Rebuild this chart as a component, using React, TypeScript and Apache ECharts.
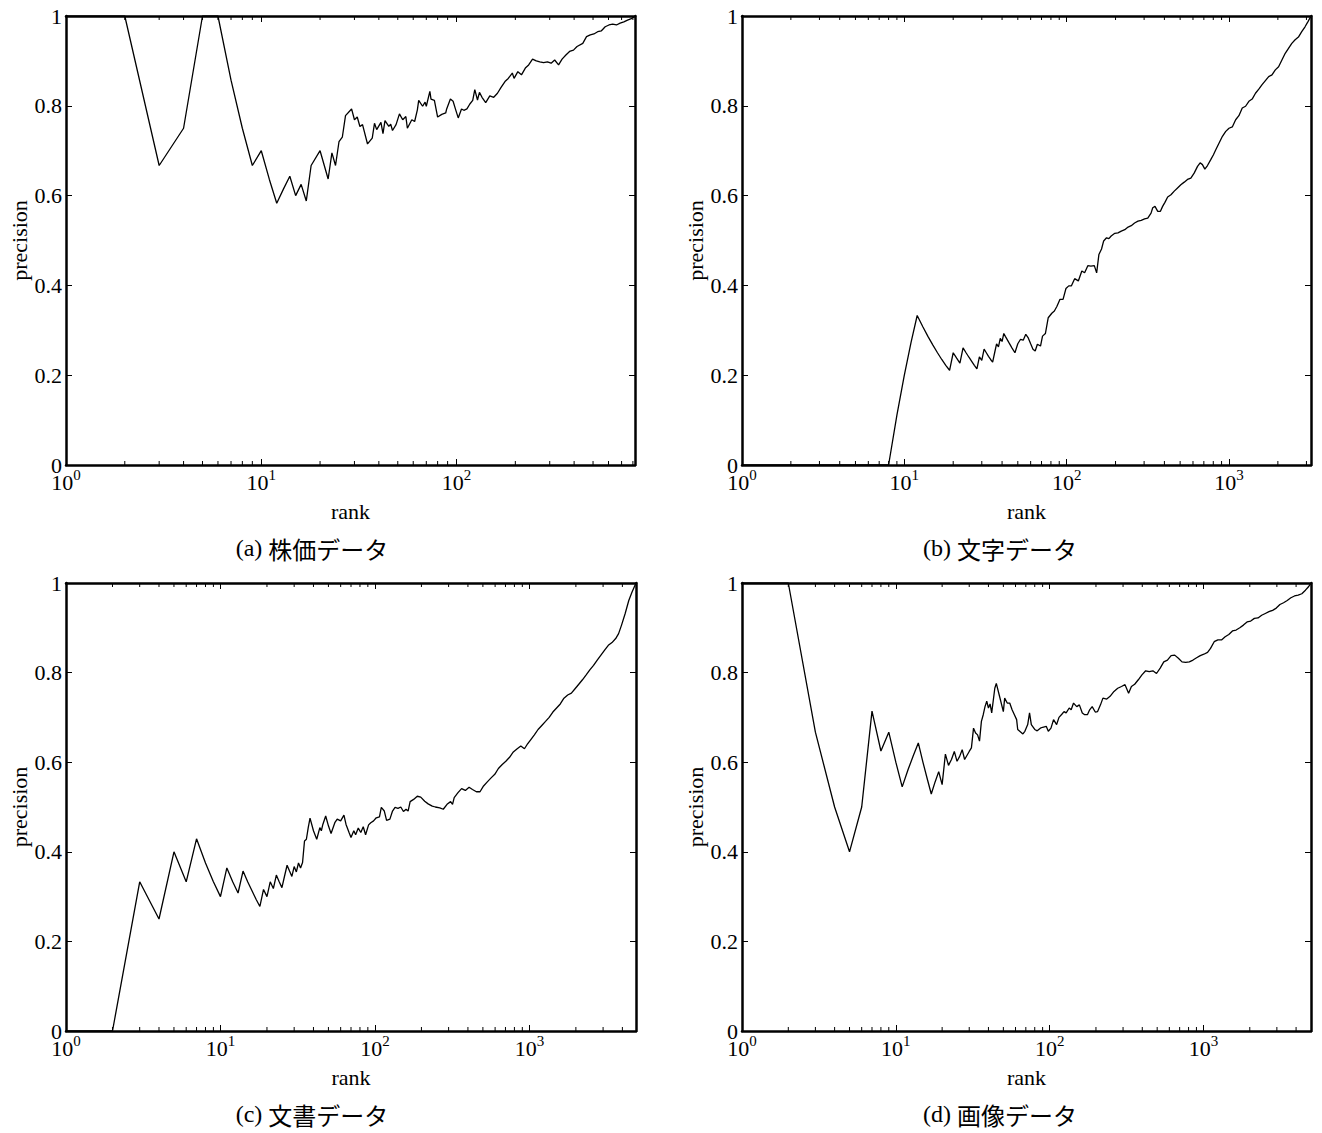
import React, { useEffect, useRef } from "react";
import * as echarts from "echarts";

// ---------- data (rank, precision) ----------
const rankA = [1, 2, 3, 4, 5, 6, 7, 8, 9, 10, 11, 12, 13, 14, 15, 16, 17, 18, 20, 22, 23, 24, 25, 26, 27, 29, 30, 31, 32, 33, 35, 37, 38, 39, 41, 42, 43, 45, 46, 47, 49, 51, 53, 55, 56, 59, 61, 63, 64, 67, 69, 70, 73, 74, 77, 80, 84, 88, 89, 93, 96, 99, 102, 106, 109, 113, 117, 121, 124, 128, 131, 135, 141, 148, 155, 162, 169, 177, 184, 193, 197, 206, 215, 225, 234, 245, 256, 267, 279, 292, 305, 318, 333, 347, 363, 379, 397, 414, 443, 463, 484, 505, 528, 552, 577, 603, 630, 659, 688, 719, 751, 785, 820];
const precA = [1, 1, 0.667, 0.75, 1, 1, 0.857, 0.75, 0.667, 0.7, 0.636, 0.583, 0.615, 0.643, 0.6, 0.625, 0.588, 0.667, 0.7, 0.637, 0.695, 0.667, 0.72, 0.73, 0.778, 0.793, 0.769, 0.775, 0.754, 0.758, 0.715, 0.728, 0.761, 0.747, 0.763, 0.738, 0.767, 0.754, 0.759, 0.745, 0.758, 0.782, 0.769, 0.776, 0.75, 0.769, 0.765, 0.791, 0.812, 0.799, 0.808, 0.799, 0.832, 0.815, 0.812, 0.775, 0.781, 0.784, 0.793, 0.815, 0.81, 0.791, 0.773, 0.793, 0.79, 0.793, 0.804, 0.812, 0.836, 0.813, 0.83, 0.819, 0.807, 0.822, 0.819, 0.828, 0.841, 0.854, 0.861, 0.873, 0.861, 0.876, 0.869, 0.884, 0.891, 0.904, 0.9, 0.898, 0.896, 0.898, 0.895, 0.902, 0.891, 0.904, 0.913, 0.921, 0.924, 0.932, 0.939, 0.954, 0.958, 0.96, 0.965, 0.967, 0.976, 0.98, 0.982, 0.98, 0.984, 0.987, 0.991, 0.994, 1.0];

const rankB = [1, 2, 3, 4, 5, 6, 7, 8, 9, 10, 11, 12, 13, 14, 15, 16, 17, 18, 19, 20, 21, 22, 23, 24, 25, 26, 27, 28, 29, 30, 31, 32, 33, 34, 35, 36, 37, 38, 39, 40, 41, 42, 44, 46, 48, 50, 52, 54, 56, 58, 60, 62, 64, 66, 69, 71, 74, 77, 81, 84, 87, 91, 95, 99, 103, 107, 112, 118, 124, 129, 135, 141, 148, 153, 158, 164, 169, 176, 182, 188, 198, 207, 217, 228, 239, 250, 262, 275, 288, 302, 316, 331, 339, 350, 364, 378, 390, 403, 419, 439, 460, 482, 505, 530, 555, 582, 610, 640, 664, 686, 710, 737, 772, 802, 829, 869, 911, 955, 1000, 1048, 1099, 1151, 1207, 1265, 1326, 1389, 1456, 1526, 1599, 1676, 1756, 1840, 1929, 2021, 2118, 2220, 2326, 2438, 2555, 2677, 2806, 2940, 3060, 3200];
const precB = [0, 0, 0, 0, 0, 0, 0, 0, 0.111, 0.2, 0.273, 0.333, 0.308, 0.286, 0.267, 0.25, 0.235, 0.222, 0.211, 0.25, 0.238, 0.227, 0.261, 0.25, 0.24, 0.231, 0.222, 0.214, 0.241, 0.233, 0.258, 0.25, 0.242, 0.235, 0.229, 0.25, 0.27, 0.263, 0.282, 0.275, 0.293, 0.286, 0.273, 0.261, 0.25, 0.27, 0.28, 0.278, 0.291, 0.283, 0.27, 0.258, 0.254, 0.269, 0.265, 0.287, 0.293, 0.328, 0.338, 0.343, 0.353, 0.369, 0.369, 0.393, 0.399, 0.399, 0.415, 0.41, 0.432, 0.428, 0.444, 0.443, 0.444, 0.428, 0.469, 0.481, 0.499, 0.506, 0.504, 0.51, 0.516, 0.517, 0.521, 0.524, 0.53, 0.533, 0.539, 0.543, 0.545, 0.548, 0.55, 0.561, 0.573, 0.576, 0.565, 0.565, 0.576, 0.585, 0.597, 0.602, 0.61, 0.617, 0.624, 0.63, 0.636, 0.639, 0.65, 0.665, 0.673, 0.669, 0.659, 0.667, 0.68, 0.691, 0.702, 0.717, 0.732, 0.743, 0.75, 0.753, 0.769, 0.778, 0.795, 0.799, 0.81, 0.815, 0.828, 0.837, 0.847, 0.856, 0.865, 0.869, 0.88, 0.887, 0.902, 0.917, 0.928, 0.939, 0.947, 0.953, 0.965, 0.976, 0.987, 1.0];

const rankC = [1, 2, 3, 4, 5, 6, 7, 8, 9, 10, 11, 12, 13, 14, 15, 16, 17, 18, 19, 20, 21, 22, 23, 24, 25, 26, 27, 28, 29, 30, 31, 32, 33, 34, 35, 36, 37, 38, 40, 42, 44, 45, 46, 48, 50, 52, 55, 57, 60, 63, 65, 68, 70, 73, 75, 78, 81, 84, 87, 91, 94, 98, 102, 107, 110, 115, 119, 125, 130, 135, 141, 147, 153, 159, 164, 169, 178, 188, 198, 210, 221, 235, 246, 263, 277, 293, 309, 318, 326, 345, 364, 385, 407, 428, 454, 479, 505, 534, 565, 597, 630, 667, 704, 744, 787, 834, 880, 929, 965, 1019, 1077, 1138, 1203, 1272, 1343, 1419, 1500, 1585, 1674, 1770, 1870, 1975, 2088, 2206, 2331, 2462, 2602, 2749, 2905, 3069, 3243, 3426, 3620, 3780, 3950, 4170, 4400, 4620, 4900];
const precC = [0, 0, 0.333, 0.25, 0.4, 0.333, 0.429, 0.375, 0.333, 0.3, 0.364, 0.333, 0.308, 0.357, 0.333, 0.313, 0.294, 0.278, 0.316, 0.3, 0.333, 0.318, 0.348, 0.333, 0.32, 0.346, 0.37, 0.357, 0.345, 0.367, 0.355, 0.375, 0.364, 0.376, 0.424, 0.428, 0.454, 0.475, 0.447, 0.428, 0.454, 0.447, 0.461, 0.48, 0.458, 0.441, 0.465, 0.473, 0.469, 0.482, 0.461, 0.443, 0.432, 0.447, 0.438, 0.453, 0.443, 0.456, 0.438, 0.46, 0.465, 0.469, 0.476, 0.478, 0.499, 0.491, 0.47, 0.473, 0.491, 0.499, 0.497, 0.5, 0.49, 0.495, 0.491, 0.512, 0.517, 0.524, 0.522, 0.513, 0.507, 0.502, 0.5, 0.498, 0.495, 0.506, 0.512, 0.506, 0.521, 0.532, 0.541, 0.537, 0.544, 0.539, 0.534, 0.534, 0.547, 0.556, 0.565, 0.573, 0.586, 0.595, 0.602, 0.611, 0.623, 0.63, 0.636, 0.63, 0.639, 0.65, 0.661, 0.673, 0.682, 0.691, 0.7, 0.712, 0.721, 0.73, 0.743, 0.75, 0.754, 0.764, 0.774, 0.784, 0.795, 0.806, 0.816, 0.828, 0.839, 0.85, 0.861, 0.867, 0.876, 0.887, 0.906, 0.932, 0.961, 0.98, 1.0];

const rankD = [1, 2, 3, 4, 5, 6, 7, 8, 9, 10, 11, 12, 13, 14, 15, 16, 17, 18, 19, 20, 21, 22, 23, 24, 25, 26, 27, 28, 30, 31, 32, 33, 34, 35, 36, 37, 38, 39, 40, 41, 42, 44, 45, 47, 50, 51, 53, 55, 57, 59, 61, 62, 65, 67, 69, 72, 74, 76, 80, 83, 87, 90, 95, 98, 102, 106, 111, 115, 120, 124, 128, 134, 138, 143, 150, 156, 163, 169, 176, 182, 189, 198, 205, 214, 222, 235, 247, 262, 277, 293, 309, 326, 340, 357, 377, 398, 421, 444, 469, 495, 523, 552, 583, 616, 650, 687, 725, 766, 809, 855, 902, 953, 1006, 1063, 1111, 1174, 1240, 1310, 1383, 1461, 1543, 1630, 1722, 1818, 1920, 2028, 2142, 2262, 2389, 2523, 2665, 2815, 2973, 3140, 3316, 3502, 3699, 3906, 4126, 4358, 4602, 4800, 5000];
const precD = [1, 1, 0.667, 0.5, 0.4, 0.5, 0.714, 0.625, 0.667, 0.6, 0.545, 0.583, 0.615, 0.643, 0.6, 0.563, 0.529, 0.556, 0.579, 0.55, 0.618, 0.593, 0.606, 0.624, 0.602, 0.613, 0.628, 0.606, 0.624, 0.632, 0.676, 0.665, 0.661, 0.647, 0.691, 0.706, 0.724, 0.736, 0.721, 0.73, 0.71, 0.765, 0.776, 0.75, 0.713, 0.743, 0.732, 0.732, 0.717, 0.706, 0.695, 0.673, 0.667, 0.663, 0.669, 0.684, 0.71, 0.684, 0.673, 0.67, 0.676, 0.678, 0.68, 0.669, 0.676, 0.695, 0.684, 0.7, 0.707, 0.713, 0.71, 0.721, 0.717, 0.732, 0.724, 0.728, 0.71, 0.706, 0.706, 0.717, 0.724, 0.712, 0.713, 0.728, 0.743, 0.741, 0.747, 0.758, 0.765, 0.769, 0.773, 0.754, 0.769, 0.774, 0.784, 0.795, 0.804, 0.802, 0.804, 0.798, 0.81, 0.824, 0.828, 0.838, 0.839, 0.832, 0.824, 0.823, 0.824, 0.828, 0.833, 0.838, 0.841, 0.845, 0.854, 0.869, 0.873, 0.873, 0.88, 0.885, 0.893, 0.895, 0.9, 0.906, 0.913, 0.915, 0.921, 0.922, 0.928, 0.932, 0.936, 0.939, 0.944, 0.952, 0.956, 0.961, 0.967, 0.971, 0.973, 0.976, 0.984, 0.991, 1.0];

const rankMax = [820, 3200, 4900, 5000];
const captions = ["株価データ", "文字データ", "文書データ", "画像データ"];
const captionTags = ["(a) ", "(b) ", "(c) ", "(d) "];
const yTicks = [0, 0.2, 0.4, 0.6, 0.8, 1];
const minorTicks = [2, 3, 4, 5, 6, 7, 8, 9, 20, 30, 40, 50, 60, 70, 80, 90, 200, 300, 400, 500, 600, 700, 800, 900, 2000, 3000, 4000, 5000, 6000, 7000, 8000, 9000];
const xName = "rank";
const yName = "precision";

const ranks = [rankA, rankB, rankC, rankD];
const precs = [precA, precB, precC, precD];

// ---------- layout ----------
const grids = [
  { left: 66, top: 16, width: 569, height: 449 },
  { left: 742, top: 16, width: 569, height: 449 },
  { left: 66, top: 583, width: 570, height: 448 },
  { left: 742, top: 583, width: 569, height: 448 },
];
const captionPos = [
  [312, 548],
  [1000, 548],
  [312, 1114],
  [1000, 1114],
];

const SERIF = '"Liberation Serif", "Times New Roman", "DejaVu Serif", serif';
const JP = '"Noto Sans CJK JP", "Noto Sans", sans-serif';

function buildOption() {
  const xAxis: any[] = [];
  const yAxis: any[] = [];
  const series: any[] = [];
  const graphic: any[] = [];

  grids.forEach((g, i) => {
    const max = rankMax[i];
    const lineStyle = { color: "#000", width: 2.5 };
    const tick = { show: true, inside: true, length: 6, lineStyle: { color: "#000", width: 1 } };
    xAxis.push({
      type: "log",
      logBase: 10,
      gridIndex: i,
      min: 1,
      max,
      position: "bottom",
      axisLine: { show: true, onZero: false, lineStyle },
      axisTick: tick,
      splitLine: { show: false },
      axisLabel: {
        margin: 6,
        color: "#000",
        formatter: (v: number) => {
          const e = Math.round(Math.log10(v));
          if (Math.abs(v - Math.pow(10, e)) < 1e-6 * v) return "{b|10}{e|" + e + "}";
          return "";
        },
        rich: {
          b: { fontFamily: SERIF, fontSize: 22, lineHeight: 22, color: "#000" },
          e: { fontFamily: SERIF, fontSize: 15, lineHeight: 15, color: "#000", padding: [0, 0, 14, 0] },
        },
      },
      name: xName,
      nameLocation: "middle",
      nameGap: 35,
      nameTextStyle: { fontFamily: SERIF, fontSize: 22, color: "#000" },
    });
    xAxis.push({
      type: "log",
      logBase: 10,
      gridIndex: i,
      min: 1,
      max,
      position: "top",
      axisLine: { show: true, onZero: false, lineStyle },
      axisTick: tick,
      splitLine: { show: false },
      axisLabel: { show: false },
    });
    yAxis.push({
      type: "value",
      gridIndex: i,
      min: yTicks[0],
      max: yTicks[yTicks.length - 1],
      interval: 0.2,
      position: "left",
      axisLine: { show: true, onZero: false, lineStyle },
      axisTick: tick,
      splitLine: { show: false },
      axisLabel: { margin: 4, color: "#000", fontFamily: SERIF, fontSize: 22, lineHeight: 12 },
      name: yName,
      nameLocation: "middle",
      nameGap: 36,
      nameTextStyle: { fontFamily: SERIF, fontSize: 22, color: "#000" },
    });
    yAxis.push({
      type: "value",
      gridIndex: i,
      min: yTicks[0],
      max: yTicks[yTicks.length - 1],
      interval: 0.2,
      position: "right",
      axisLine: { show: true, onZero: false, lineStyle },
      axisTick: tick,
      splitLine: { show: false },
      axisLabel: { show: false },
    });

    series.push({
      type: "line",
      xAxisIndex: 2 * i,
      yAxisIndex: 2 * i,
      data: ranks[i].map((r, k) => [r, precs[i][k]]),
      showSymbol: false,
      symbol: "none",
      lineStyle: { color: "#000", width: 1.3 },
      z: 3,
      silent: true,
    });

    series.push({
      type: "custom",
      xAxisIndex: 2 * i,
      yAxisIndex: 2 * i,
      silent: true,
      z: 4,
      data: minorTicks.filter((v) => v < max).map((v) => [v, 0]),
      renderItem: (params: any, api: any) => {
        const x = api.value(0);
        const pb = api.coord([x, 0]);
        const pt = api.coord([x, 1]);
        return {
          type: "group",
          children: [
            { type: "line", shape: { x1: pb[0], y1: pb[1], x2: pb[0], y2: pb[1] - 4 }, style: { stroke: "#000", lineWidth: 1 } },
            { type: "line", shape: { x1: pt[0], y1: pt[1], x2: pt[0], y2: pt[1] + 4 }, style: { stroke: "#000", lineWidth: 1 } },
          ],
        };
      },
    });

    graphic.push({
      type: "text",
      x: captionPos[i][0],
      y: captionPos[i][1],
      style: {
        text: "{s|" + captionTags[i] + "}{j|" + captions[i] + "}",
        align: "center",
        verticalAlign: "middle",
        rich: {
          s: { fontFamily: SERIF, fontSize: 24, fill: "#000" },
          j: { fontFamily: JP, fontSize: 24, fill: "#000" },
        },
      },
    });
  });

  return {
    animation: false,
    backgroundColor: "#fff",
    grid: grids.map((g) => ({ ...g, containLabel: false })),
    xAxis,
    yAxis,
    series,
    graphic,
  };
}

export default function App() {
  const ref = useRef<HTMLDivElement>(null);
  useEffect(() => {
    if (!ref.current) return;
    const chart = echarts.init(ref.current, undefined, { renderer: "svg" });
    chart.setOption(buildOption() as any);
    return () => chart.dispose();
  }, []);
  return (
    <div
      ref={ref}
      style={{ position: "fixed", left: 0, top: 0, width: 1322, height: 1133, background: "#fff" }}
    />
  );
}
